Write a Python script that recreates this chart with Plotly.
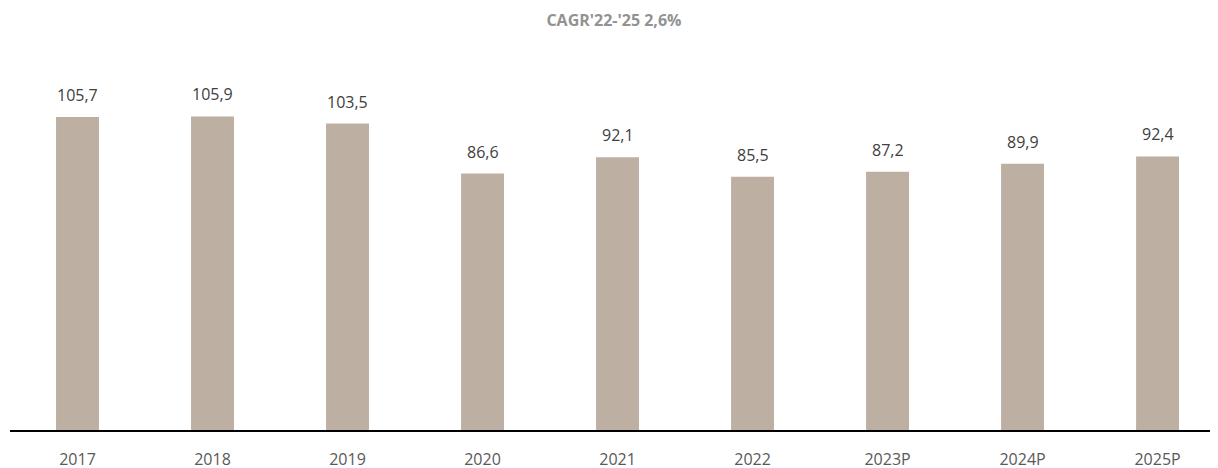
import plotly.graph_objects as go

years = ["2017", "2018", "2019", "2020", "2021", "2022", "2023P", "2024P", "2025P"]
values = [105.7, 105.9, 103.5, 86.6, 92.1, 85.5, 87.2, 89.9, 92.4]
labels = [f"{v:.1f}".replace(".", ",") for v in values]

bar_color = "#BDAFA2"

fig = go.Figure()
fig.add_trace(go.Bar(
    x=years, y=values,
    width=0.318,
    marker=dict(color=bar_color, line=dict(width=0)),
    hoverinfo="x+y",
))

# value labels above each bar (category index, so "2017" isn't read as a number)
for i, (v, lab) in enumerate(zip(values, labels)):
    fig.add_annotation(
        x=i, y=v, text=lab,
        showarrow=False, yanchor="middle", yshift=22,
        font=dict(family="Open Sans", size=16, color="#404040"),
    )

# the page body has an 8px margin, so margins are trimmed to compensate
fig.update_layout(
    width=1218, height=468,
    margin=dict(l=2, r=0, t=32, b=46),
    paper_bgcolor="white",
    plot_bgcolor="white",
    showlegend=False,
    font=dict(family="Open Sans"),
    title=dict(
        text="<b>CAGR'22-'25 2,6%</b>",
        x=0.4975, xref="container", xanchor="center",
        y=0.974, yref="container", yanchor="middle",
        font=dict(family="Open Sans", size=16, color="#929292"),
    ),
    xaxis=dict(
        type="category",
        range=[-0.5, 8.507],
        showline=True, linecolor="#000000", linewidth=2,
        showgrid=False, ticks="", zeroline=False,
        ticklabelstandoff=14,
        tickfont=dict(family="Open Sans", size=16, color="#595959"),
    ),
    yaxis=dict(
        range=[0, 131.7],
        visible=False, showgrid=False, zeroline=False,
    ),
)

fig.write_html("out.html")
